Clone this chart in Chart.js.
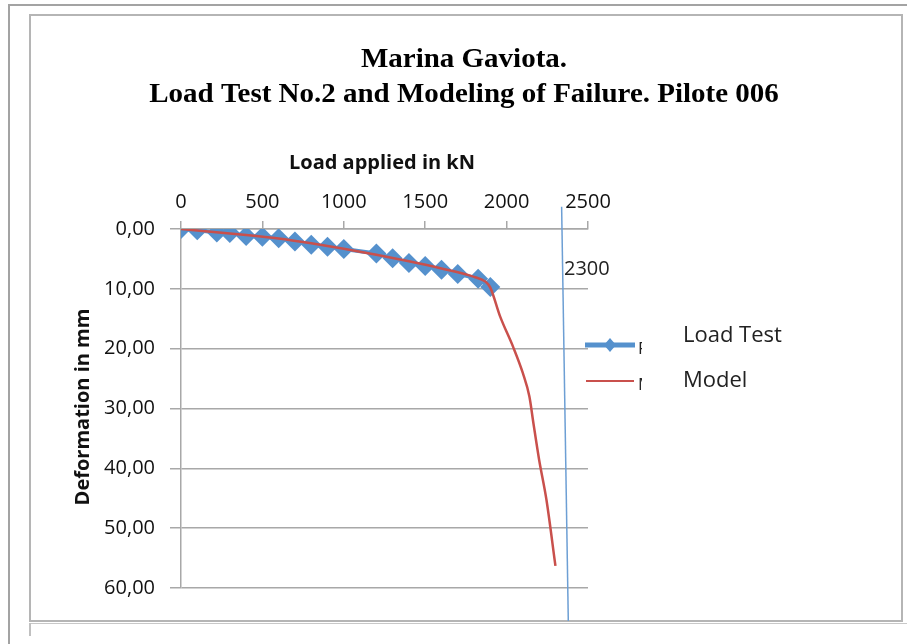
<!DOCTYPE html>
<html><head><meta charset="utf-8">
<script src="https://cdn.jsdelivr.net/npm/chart.js@4.4.0/dist/chart.umd.min.js"></script>
<style>
html,body{margin:0;padding:0;background:#fff;}
#wrap{position:relative;width:907px;height:644px;overflow:hidden;background:#fff;}
canvas{position:absolute;left:0;top:0;}
.ln{position:absolute;background:#a3a3a3;}
</style></head><body>
<div id="wrap">
<div class="ln" style="left:8px;top:4px;width:899px;height:2px"></div>
<div class="ln" style="left:8px;top:4px;width:2px;height:640px"></div>
<div class="ln" style="left:29px;top:14px;width:873px;height:2px;background:#b5b5b5"></div>
<div class="ln" style="left:29px;top:14px;width:2px;height:607px;background:#b5b5b5"></div>
<div class="ln" style="left:901px;top:14px;width:2px;height:607px;background:#b5b5b5"></div>
<div class="ln" style="left:29px;top:620px;width:874px;height:2px;background:#b5b5b5"></div>
<div class="ln" style="left:29px;top:623px;width:878px;height:1px;background:#c8c8c8"></div>
<div class="ln" style="left:29px;top:623px;width:2px;height:13px;background:#c0c0c0"></div>
<canvas id="c" width="907" height="644"></canvas>
</div>
<script>
// ---- data ----
const testLoads = [0, 100, 220, 300, 400, 500, 600, 700, 800, 900, 1000, 1200, 1300, 1400, 1500, 1600, 1700, 1825, 1900];
const testDeform = [0, 0.2, 0.6, 0.65, 1.15, 1.3, 1.55, 2.1, 2.65, 2.95, 3.35, 4.1, 4.9, 5.7, 6.2, 6.8, 7.5, 8.3, 9.7];
const modelLoads = [0, 200, 400, 600, 800, 1000, 1200, 1400, 1600, 1800, 1870, 1900, 1960, 2040, 2100, 2140, 2165, 2200, 2245, 2300];
const modelDeform = [0, 0.5, 1.0, 1.6, 2.4, 3.3, 4.3, 5.4, 6.6, 8.0, 8.8, 9.8, 14.6, 19.7, 24.1, 28.0, 32.5, 38.6, 45.3, 56.3];
const limitLoads = [2338, 2379];
const limitDeform = [-3.7, 65.5];
const xTicks = [0, 500, 1000, 1500, 2000, 2500];
const yTicks = [0, 10, 20, 30, 40, 50, 60];
const seriesNames = ['Load Test', 'Model'];
const limitLabel = '2300';
const titleLines = ['Marina Gaviota.', 'Load Test No.2 and Modeling of Failure. Pilote 006'];
const xTitle = 'Load applied in kN';
const yTitle = 'Deformation in mm';

const BLUE = '#5591cd';
const RED = '#c9504c';
const GRID = '#a8a8a8';
const SANS = '"Open Sans", sans-serif';

const pts = (xs, ys) => xs.map((x, i) => ({x: x, y: ys[i]}));

const textPlugin = {
  id: 'texts',
  afterDraw(chart) {
    const ctx = chart.ctx;
    ctx.save();
    ctx.fillStyle = '#000';
    ctx.textAlign = 'center';
    ctx.textBaseline = 'middle';
    ctx.font = 'bold 28px "Liberation Serif", serif';
    ctx.save();
    ctx.translate(464, 0);
    ctx.scale(1.035, 1);
    ctx.fillText(titleLines[0], 0, 60);
    ctx.fillText(titleLines[1], 0, 95);
    ctx.restore();
    ctx.fillStyle = '#111';
    ctx.font = 'bold 20px ' + SANS;
    ctx.fillText(xTitle, 382, 163);
    ctx.save();
    ctx.translate(83, 407);
    ctx.rotate(-Math.PI / 2);
    ctx.fillText(yTitle, 0, 0);
    ctx.restore();
    // limit label
    ctx.fillStyle = '#222';
    ctx.textAlign = 'left';
    ctx.font = '20px ' + SANS;
    ctx.fillText(limitLabel, 564, 269);
    // legend
    ctx.lineCap = 'butt';
    ctx.strokeStyle = BLUE; ctx.lineWidth = 5;
    ctx.beginPath(); ctx.moveTo(585, 345); ctx.lineTo(635, 345); ctx.stroke();
    ctx.fillStyle = BLUE;
    ctx.beginPath(); ctx.moveTo(610, 338); ctx.lineTo(616, 345); ctx.lineTo(610, 352); ctx.lineTo(604, 345); ctx.closePath(); ctx.fill();
    ctx.strokeStyle = RED; ctx.lineWidth = 2;
    ctx.beginPath(); ctx.moveTo(586, 381); ctx.lineTo(634, 381); ctx.stroke();
    // clipped letters
    ctx.fillStyle = '#222';
    ctx.font = '17px ' + SANS;
    ctx.textBaseline = 'top';
    ctx.save(); ctx.beginPath(); ctx.rect(637, 330, 5, 40); ctx.clip();
    ctx.fillText('P', 638, 341); ctx.restore();
    ctx.save(); ctx.beginPath(); ctx.rect(637, 370, 5, 40); ctx.clip();
    ctx.fillText('M', 638, 377); ctx.restore();
    ctx.textBaseline = 'middle';
    ctx.font = '22px ' + SANS;
    ctx.fillText(seriesNames[0], 683, 336);
    ctx.fillText(seriesNames[1], 683, 381);
    ctx.restore();
  }
};

new Chart(document.getElementById('c'), {
  type: 'line',
  data: {
    datasets: [
      {label: seriesNames[1], data: pts(modelLoads, modelDeform), borderColor: RED, borderWidth: 2.5, pointRadius: 0,
       cubicInterpolationMode: 'monotone', order: 0},
      {label: seriesNames[0], data: pts(testLoads, testDeform), borderColor: BLUE, backgroundColor: BLUE, borderWidth: 4,
       pointStyle: 'rectRot', pointRadius: 10, pointBorderWidth: 0, pointBackgroundColor: BLUE, tension: 0, order: 1},
      {label: 'limit', data: pts(limitLoads, limitDeform), borderColor: '#6d9fd4', borderWidth: 1.5, pointRadius: 0, clip: false, order: 2}
    ]
  },
  options: {
    responsive: false,
    animation: false,
    devicePixelRatio: 1,
    layout: {padding: {left: 81, top: 169, right: 319, bottom: 56}},
    plugins: {legend: {display: false}, title: {display: false}, tooltip: {enabled: false}},
    scales: {
      x: {
        type: 'linear', position: 'top', min: 0, max: 2500,
        afterBuildTicks: s => { s.ticks = xTicks.map(v => ({value: v})); },
        afterFit: s => { s.height = 60; },
        ticks: {color: '#111', font: {family: SANS, size: 20}, padding: 7, maxRotation: 0,
                callback: v => String(v)},
        grid: {drawOnChartArea: false, drawTicks: true, tickLength: 8, color: GRID, lineWidth: 1.5},
        border: {display: true, color: GRID, width: 1.5}
      },
      y: {
        type: 'linear', reverse: true, min: 0, max: 60,
        afterBuildTicks: s => { s.ticks = yTicks.map(v => ({value: v})); },
        afterFit: s => { s.width = 100; },
        ticks: {color: '#111', font: {family: SANS, size: 20}, padding: 15,
                callback: v => v.toFixed(2).replace('.', ',')},
        grid: {color: GRID, lineWidth: 1.5, tickLength: 11},
        border: {display: true, color: GRID, width: 1.5}
      }
    }
  },
  plugins: [textPlugin]
});
</script>
</body></html>
